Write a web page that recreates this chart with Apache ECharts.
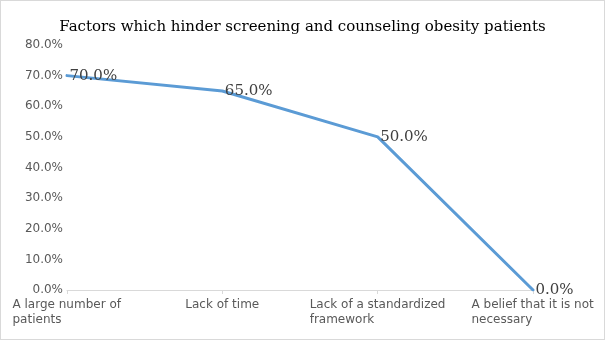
<!DOCTYPE html>
<html>
<head>
<meta charset="utf-8">
<script src="https://cdn.jsdelivr.net/npm/echarts@6/dist/echarts.min.js"></script>
<style>
  html, body { margin: 0; padding: 0; background: #fff; }
  #chart { width: 603px; height: 338px; border: 1px solid #d9d9d9; }
</style>
</head>
<body>
<div id="chart"></div>
<script>
const titleText = 'Factors which hinder screening and counseling obesity patients';
const categories = [
  'A large number of\npatients',
  'Lack of time',
  'Lack of a standardized\nframework',
  'A belief that it is not\nnecessary'
];
const shares = [70.0, 65.0, 50.0, 0.0];
const yMin = 0, yMax = 80, yStep = 10;

const axisFont = '12px "DejaVu Sans"';
// Width of each category label block, so its lines can be left-aligned inside a centred block
const ctx = document.createElement('canvas').getContext('2d');
ctx.font = axisFont;
const rich = {};
categories.forEach((c, i) => {
  const w = Math.max(...c.split('\n').map(s => ctx.measureText(s).width));
  rich['c' + i] = { width: Math.ceil(w), align: 'left', fontSize: 12, fontFamily: 'DejaVu Sans', color: '#595959', lineHeight: 15 };
});

const chart = echarts.init(document.getElementById('chart'), null, { renderer: 'canvas' });
chart.setOption({
  animation: false,
  title: {
    text: titleText,
    left: 'center',
    top: 14,
    textStyle: { fontFamily: 'DejaVu Serif', fontSize: 15, fontWeight: 'normal', color: '#000' }
  },
  grid: { left: 66, right: 71, top: 44, bottom: 49, containLabel: false },
  xAxis: {
    type: 'category',
    data: categories,
    boundaryGap: false,
    axisLine: { lineStyle: { color: '#d9d9d9', width: 1 } },
    axisTick: { show: true, length: 4, lineStyle: { color: '#d9d9d9' } },
    axisLabel: {
      interval: 0,
      margin: 7,
      formatter: (v, i) => v.split('\n').map(s => '{c' + i + '|' + s + '}').join('\n'),
      rich: rich
    }
  },
  yAxis: {
    type: 'value',
    min: yMin, max: yMax, interval: yStep,
    axisLine: { show: false },
    axisTick: { show: false },
    splitLine: { show: false },
    axisLabel: {
      margin: 4,
      formatter: v => v.toFixed(1) + '%',
      fontFamily: 'DejaVu Sans', fontSize: 12, color: '#595959'
    }
  },
  series: [{
    type: 'line',
    data: shares,
    smooth: false,
    symbol: 'circle',
    symbolSize: 1,
    itemStyle: { color: '#5B9BD5' },
    lineStyle: { color: '#5B9BD5', width: 3, cap: 'round', join: 'round' },
    label: {
      show: true,
      position: 'right',
      distance: 2,
      formatter: p => p.value.toFixed(1) + '%',
      fontFamily: 'DejaVu Serif', fontSize: 15, color: '#404040'
    }
  }]
});
</script>
</body>
</html>
